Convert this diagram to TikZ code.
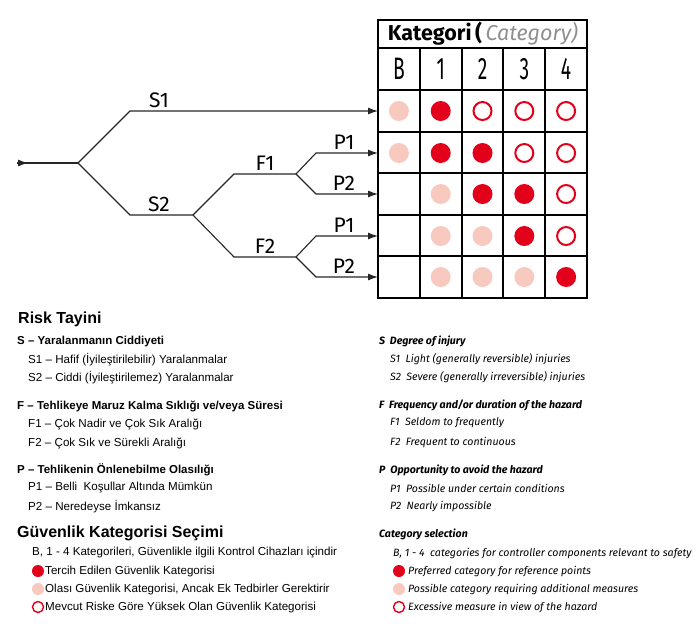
\documentclass[tikz,border=0pt]{standalone}
\usepackage{fontspec}
\setmainfont{Liberation Sans}
\newfontfamily\dinfont{Fira Sans}
\newfontfamily\dinnarrow[FakeStretch=0.62]{Fira Sans}
\usetikzlibrary{arrows.meta}
\definecolor{kred}{HTML}{E2001A}
\definecolor{kpink}{HTML}{F8CABF}
\definecolor{kgray}{HTML}{8F8F8F}
\tikzset{
  dotr/.style={circle, fill=kred, minimum size=20pt, inner sep=0pt},
  dotp/.style={circle, fill=kpink, minimum size=20pt, inner sep=0pt},
  doto/.style={circle, draw=kred, line width=2pt, minimum size=18pt, inner sep=0pt},
  dotn/.style={inner sep=0pt},
  branch/.style={draw=black!85, line width=1.1pt},
  tip/.style={-{Latex[length=10pt,width=7pt]}},
  blabel/.style={font=\dinfont\fontsize{21}{21}\selectfont, inner sep=3pt, anchor=south},
  trtext/.style={anchor=west, inner sep=0pt, font=\fontsize{11.6}{13}\selectfont},
  trhead/.style={anchor=west, inner sep=0pt, font=\bfseries\fontsize{11.5}{13}\selectfont},
  trbig/.style={anchor=west, inner sep=0pt, font=\bfseries\fontsize{16}{18}\selectfont},
  entext/.style={anchor=west, inner sep=0pt, font=\dinfont\itshape\fontsize{10.6}{12}\selectfont},
  enhead/.style={anchor=west, inner sep=0pt, font=\dinfont\bfseries\itshape\fontsize{10.6}{12}\selectfont},
}
\begin{document}
\begin{tikzpicture}[x=1pt,y=-1pt]
\useasboundingbox (0,0) rectangle (700,633);
%-- table
\draw[line width=1.3pt] (378,20) rectangle (587,298);
\foreach \y in {48,90,132,173,215,256}
  \draw[line width=1.3pt] (378,\y) -- (587,\y);
\foreach \x in {420,462,503,545}
  \draw[line width=1.3pt] (\x,48) -- (\x,298);
\node[inner sep=0pt, font=\dinfont\fontsize{21.5}{21.5}\selectfont] (kat) at (483,34)
  {\textbf{Kategori}\,\textbf{(}\,{\color{kgray}\itshape Category)}};
\foreach \c [count=\i] in {B,1,2,3,4}
  \node[font=\dinnarrow\fontsize{31}{31}\selectfont] (h\i) at ({378+41.8*(\i-0.5)},69) {\c};
%-- dots
\foreach \r/\y/\kinds in {1/111/{p,r,o,o,o}, 2/153/{p,r,r,o,o}, 3/194/{n,p,r,r,o},
                           4/236/{n,p,p,r,o}, 5/277/{n,p,p,p,r}}
  \foreach \k [count=\i] in \kinds
    \node[dot\k] (d\r\i) at ({378+41.8*(\i-0.5)},\y) {};
%-- tree
\coordinate (in) at (17,163);
\coordinate (intip) at (28,163);
\coordinate (root) at (78,163);
\coordinate (s1) at (130,111);
\coordinate (s2) at (130,215);
\coordinate (s2e) at (193,215);
\coordinate (f1) at (234,174);
\coordinate (f1e) at (296,174);
\coordinate (f2) at (234,257);
\coordinate (f2e) at (296,257);
\coordinate (p11) at (316,153);
\coordinate (p12) at (316,194);
\coordinate (p21) at (316,236);
\coordinate (p22) at (316,277);
\coordinate (r1) at (378,111);
\coordinate (r2) at (378,153);
\coordinate (r3) at (378,194);
\coordinate (r4) at (378,236);
\coordinate (r5) at (378,277);
\draw[branch] (in) -- (root);
\draw[branch,tip] (in) -- (intip);
\draw[branch,tip] (root) -- (s1) -- (r1);
\draw[branch] (root) -- (s2) -- (s2e);
\draw[branch] (s2e) -- (f1) -- (f1e);
\draw[branch] (s2e) -- (f2) -- (f2e);
\draw[branch,tip] (f1e) -- (p11) -- (r2);
\draw[branch,tip] (f1e) -- (p12) -- (r3);
\draw[branch,tip] (f2e) -- (p21) -- (r4);
\draw[branch,tip] (f2e) -- (p22) -- (r5);
\node[blabel] (lS1) at (159,111) {S1};
\node[blabel] (lS2) at (159,215) {S2};
\node[blabel] (lF1) at (265,174) {F1};
\node[blabel] (lF2) at (265,257) {F2};
\node[blabel] (lP11) at (344,153) {P1};
\node[blabel] (lP12) at (344,194) {P2};
\node[blabel] (lP21) at (344,236) {P1};
\node[blabel] (lP22) at (344,277) {P2};
%-- turkish text
\node[trbig] (trrisk) at (18,319) {Risk Tayini};
\node[trhead] (trS) at (17,342) {S – Yaralanmanın Ciddiyeti};
\node[trtext] (trS1) at (28,360) {S1 – Hafif (İyileştirilebilir) Yaralanmalar};
\node[trtext] (trS2) at (28,378) {S2 – Ciddi (İyileştirilemez) Yaralanmalar};
\node[trhead] (trF) at (17,406) {F – Tehlikeye Maruz Kalma Sıklığı ve/veya Süresi};
\node[trtext] (trF1) at (28,424) {F1 – Çok Nadir ve Çok Sık Aralığı};
\node[trtext] (trF2) at (28,443) {F2 – Çok Sık ve Sürekli Aralığı};
\node[trhead] (trP) at (17,470) {P – Tehlikenin Önlenebilme Olasılığı};
\node[trtext] (trP1) at (28,488) {P1 – Belli\ \ Koşullar Altında Mümkün};
\node[trtext] (trP2) at (28,507) {P2 – Neredeyse İmkansız};
\node[trbig] (trsel) at (17,533) {Güvenlik Kategorisi Seçimi};
\node[trtext] (trB) at (32,553) {B, 1 - 4 Kategorileri, Güvenlikle ilgili Kontrol Cihazları içindir};
\node[dotr, minimum size=12pt] (trdr) at (38,571) {};
\node[dotp, minimum size=12pt] (trdp) at (38,589) {};
\node[doto, minimum size=11pt, line width=1.4pt] (trdo) at (38,607) {};
\node[trtext] (trLr) at (45,571) {Tercih Edilen Güvenlik Kategorisi};
\node[trtext] (trLp) at (45,589) {Olası Güvenlik Kategorisi, Ancak Ek Tedbirler Gerektirir};
\node[trtext] (trLo) at (45,607) {Mevcut Riske Göre Yüksek Olan Güvenlik Kategorisi};
%-- english text
\node[enhead] (enS) at (379,341) {S\ \ Degree of injury};
\node[entext] (enS1) at (390,359) {S1\ \ Light (generally reversible) injuries};
\node[entext] (enS2) at (390,377) {S2\ \ Severe (generally irreversible) injuries};
\node[enhead] (enF) at (379,405) {F\ \ Frequency and/or duration of the hazard};
\node[entext] (enF1) at (390,423) {F1\ \ Seldom to frequently};
\node[entext] (enF2) at (390,442) {F2\ \ Frequent to continuous};
\node[enhead] (enP) at (379,470) {P\ \ Opportunity to avoid the hazard};
\node[entext] (enP1) at (390,488) {P1\ \ Possible under certain conditions};
\node[entext] (enP2) at (390,506) {P2\ \ Nearly impossible};
\node[enhead] (ensel) at (379,534) {Category selection};
\node[entext] (enB) at (393,553) {B, 1 - 4\ \ categories for controller components relevant to safety};
\node[dotr, minimum size=12pt] (endr) at (399,571) {};
\node[dotp, minimum size=12pt] (endp) at (399,589) {};
\node[doto, minimum size=11pt, line width=1.4pt] (endo) at (399,607) {};
\node[entext] (enLr) at (408,571) {Preferred category for reference points};
\node[entext] (enLp) at (408,589) {Possible category requiring additional measures};
\node[entext] (enLo) at (408,607) {Excessive measure in view of the hazard};
\end{tikzpicture}
\end{document}
